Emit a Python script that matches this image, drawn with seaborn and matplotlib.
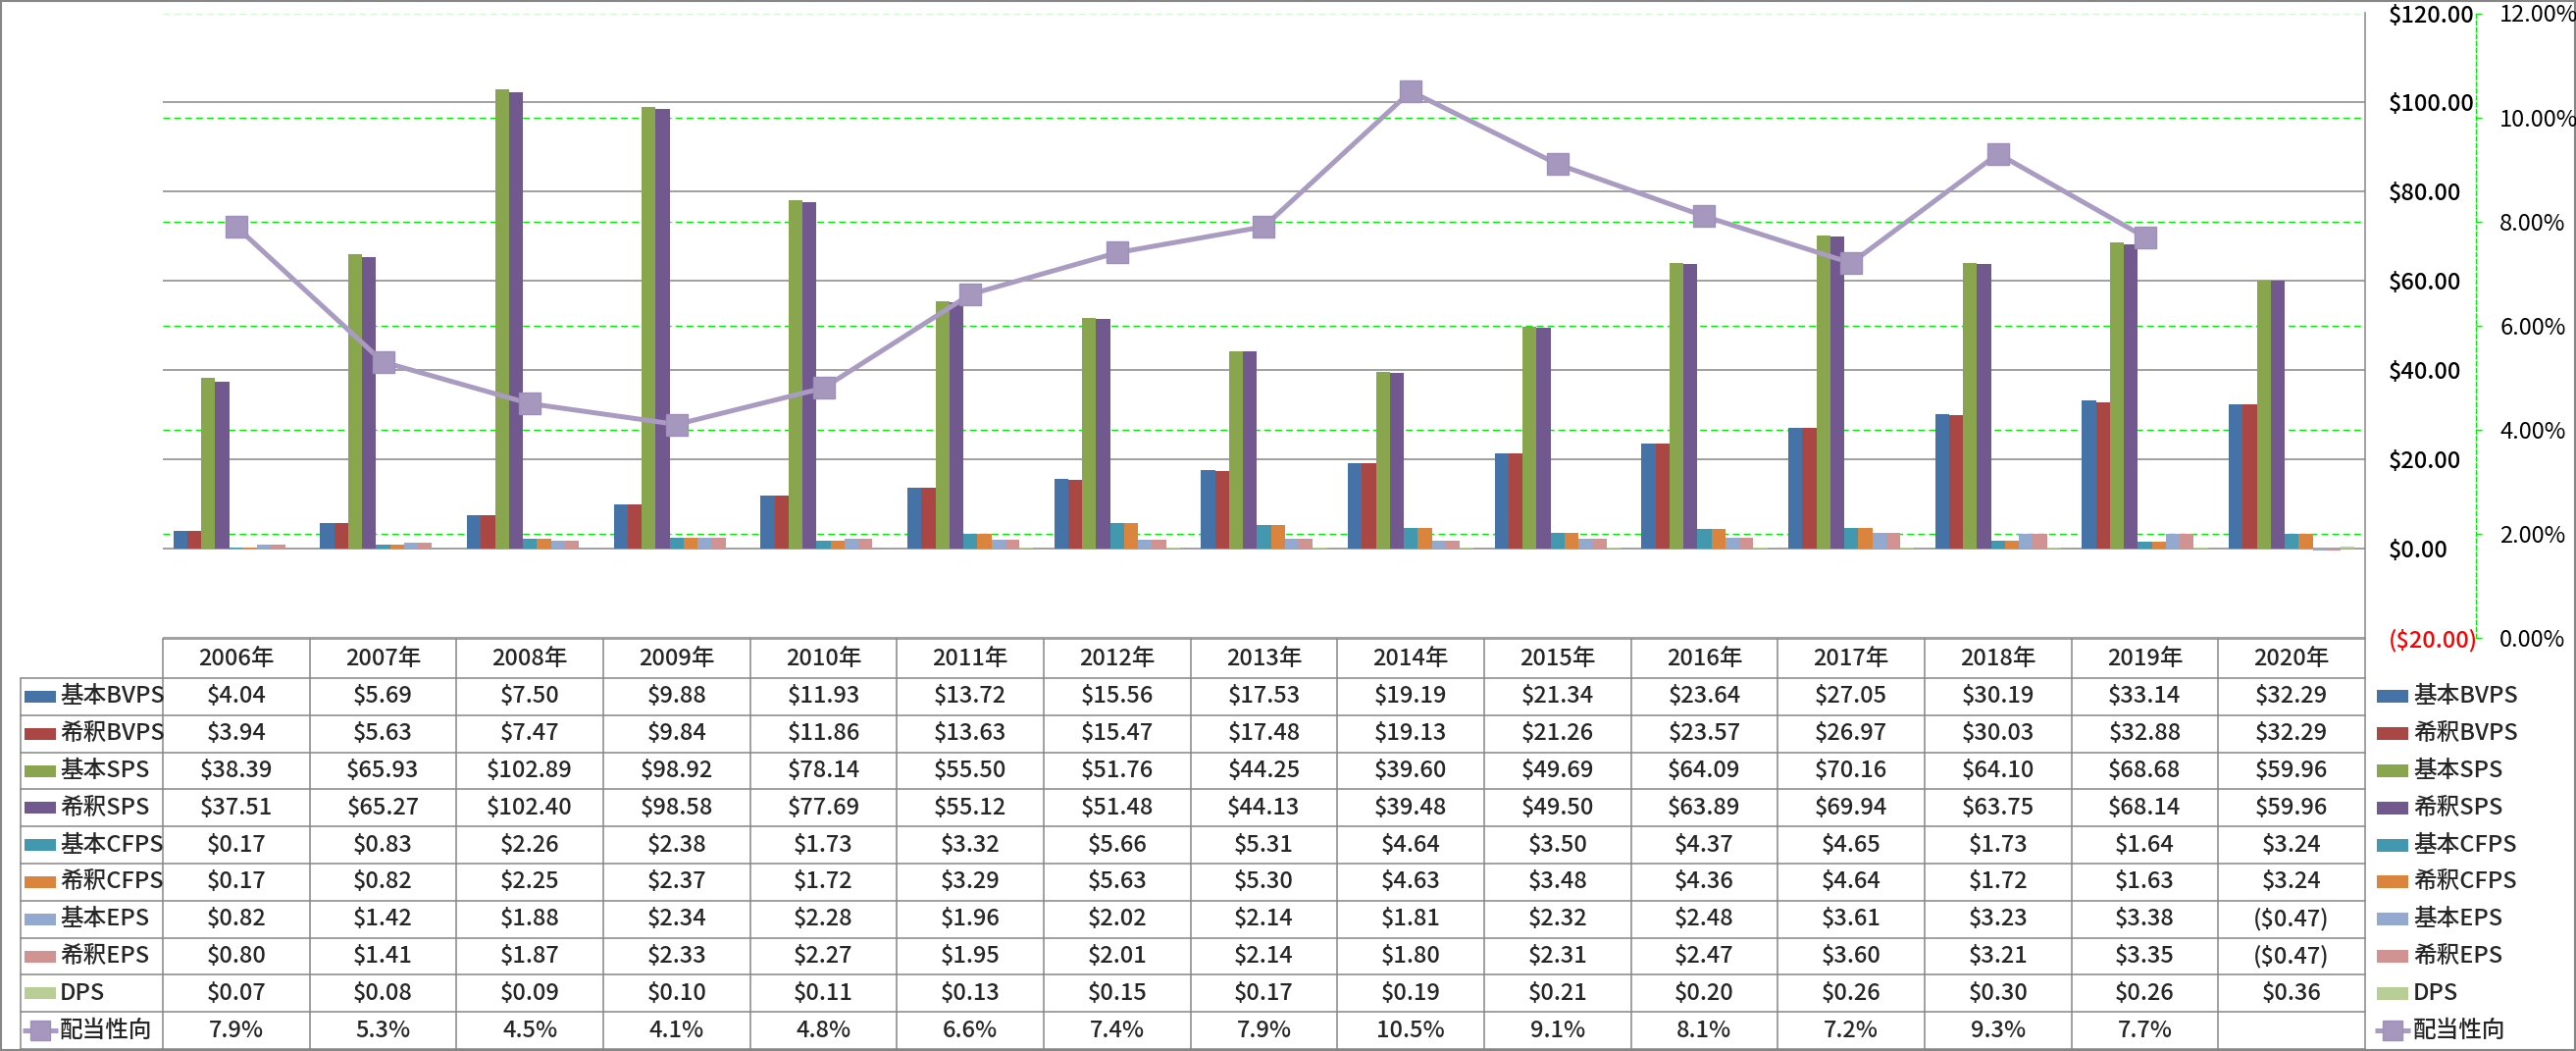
import numpy as np
import pandas as pd
import matplotlib
matplotlib.use("Agg")
import matplotlib.pyplot as plt
import seaborn as sns
from matplotlib.patches import Rectangle
from matplotlib.ticker import FuncFormatter

# ---------------- data ----------------
years = ['2006年', '2007年', '2008年', '2009年', '2010年', '2011年', '2012年', '2013年',
         '2014年', '2015年', '2016年', '2017年', '2018年', '2019年', '2020年']
series_names = ['基本BVPS', '希釈BVPS', '基本SPS', '希釈SPS', '基本CFPS', '希釈CFPS',
                '基本EPS', '希釈EPS', 'DPS']
bvps_basic = [4.04, 5.69, 7.50, 9.88, 11.93, 13.72, 15.56, 17.53, 19.19, 21.34, 23.64, 27.05, 30.19, 33.14, 32.29]
bvps_dil = [3.94, 5.63, 7.47, 9.84, 11.86, 13.63, 15.47, 17.48, 19.13, 21.26, 23.57, 26.97, 30.03, 32.88, 32.29]
sps_basic = [38.39, 65.93, 102.89, 98.92, 78.14, 55.50, 51.76, 44.25, 39.60, 49.69, 64.09, 70.16, 64.10, 68.68, 59.96]
sps_dil = [37.51, 65.27, 102.40, 98.58, 77.69, 55.12, 51.48, 44.13, 39.48, 49.50, 63.89, 69.94, 63.75, 68.14, 59.96]
cfps_basic = [0.17, 0.83, 2.26, 2.38, 1.73, 3.32, 5.66, 5.31, 4.64, 3.50, 4.37, 4.65, 1.73, 1.64, 3.24]
cfps_dil = [0.17, 0.82, 2.25, 2.37, 1.72, 3.29, 5.63, 5.30, 4.63, 3.48, 4.36, 4.64, 1.72, 1.63, 3.24]
eps_basic = [0.82, 1.42, 1.88, 2.34, 2.28, 1.96, 2.02, 2.14, 1.81, 2.32, 2.48, 3.61, 3.23, 3.38, -0.47]
eps_dil = [0.80, 1.41, 1.87, 2.33, 2.27, 1.95, 2.01, 2.14, 1.80, 2.31, 2.47, 3.60, 3.21, 3.35, -0.47]
dps = [0.07, 0.08, 0.09, 0.10, 0.11, 0.13, 0.15, 0.17, 0.19, 0.21, 0.20, 0.26, 0.30, 0.26, 0.36]
payout_pct = [7.9, 5.3, 4.5, 4.1, 4.8, 6.6, 7.4, 7.9, 10.5, 9.1, 8.1, 7.2, 9.3, 7.7, np.nan]
line_name = '配当性向'

colors = ['#4572A7', '#AA4643', '#89A54E', '#71588F', '#4198AF', '#DB843D',
          '#93A9CF', '#D19392', '#B9CD96']
line_color = '#A99BC2'
marker_color = '#A597BD'

all_series = [bvps_basic, bvps_dil, sps_basic, sps_dil, cfps_basic, cfps_dil,
              eps_basic, eps_dil, dps]

rows = []
for name, vals in zip(series_names, all_series):
    for y, v in zip(years, vals):
        rows.append({'year': y, 'series': name, 'value': v})
df = pd.DataFrame(rows)
df_line = pd.DataFrame({'pos': np.arange(len(years)), 'ratio': np.array(payout_pct) / 100.0})

# ---------------- style ----------------
sns.set_style('white')
plt.rcParams['font.family'] = ['Noto Sans CJK JP', 'DejaVu Sans']
plt.rcParams['axes.unicode_minus'] = False

W, H = 2626, 1071
fig = plt.figure(figsize=(W / 100, H / 100), dpi=100)
fig.patch.set_facecolor('white')

plot_left, plot_right, plot_top, plot_bottom = 166, 2411, 13.5, 650
ax = fig.add_axes([plot_left / W, 1 - plot_bottom / H,
                   (plot_right - plot_left) / W, (plot_bottom - plot_top) / H])

grid_gray = '#868686'
FS = 17
FW = 'medium'

sns.barplot(data=df, x='year', y='value', hue='series', order=years, hue_order=series_names,
            palette=colors, width=0.856, saturation=1, errorbar=None, legend=False,
            linewidth=0, ax=ax)
ax.set_ylim(-20, 120)
ax.set_xlim(-0.5, len(years) - 0.5)
ax.set_xlabel('')
ax.set_ylabel('')
ax.set_xticks([])
ax.grid(False)
ax.set_axisbelow(True)
for yv in np.arange(-20, 121, 20):
    ax.axhline(yv, color=grid_gray, lw=1.1, zorder=0)


def money(v, pos=None):
    if v < 0:
        return '(${:,.2f})'.format(-v)
    return '${:,.2f}'.format(v)


for sp in ['left', 'top', 'bottom']:
    ax.spines[sp].set_visible(False)
ax.spines['right'].set_color(grid_gray)
ax.spines['right'].set_linewidth(1.1)

# secondary axis
ax2 = ax.twinx()
ax2.set_ylim(0, 0.12)
sec_ticks = np.arange(0, 0.121, 0.02)
ax2.set_yticks(sec_ticks)
ax2.yaxis.set_major_formatter(FuncFormatter(lambda v, p: '{:.2f}%'.format(v * 100)))
ax2.tick_params(axis='y', length=4.5, width=0.8, color='#00EE00', direction='out', pad=13,
                labelsize=FS, labelcolor='black')
for lab in ax2.get_yticklabels():
    lab.set_fontweight(FW)
for sp in ['left', 'top', 'bottom']:
    ax2.spines[sp].set_visible(False)
ax2.spines['right'].set_position(('outward', 113 * 0.72))
ax2.spines['right'].set_color('#00EE00')
ax2.spines['right'].set_linestyle((0, (3, 2)))
ax2.spines['right'].set_linewidth(1)

# primary axis on the right (after twinx, which resets it)
ax.yaxis.tick_right()
ax.yaxis.set_label_position('right')
ax.set_yticks(np.arange(-20, 121, 20))
ax.yaxis.set_major_formatter(FuncFormatter(money))
ax.tick_params(axis='y', which='both', left=False, right=True, labelleft=False, labelright=True,
               length=0, pad=17, labelsize=FS, labelcolor='black')

# green dashed gridlines of secondary axis drawn on the primary axis (behind bars)
y0, y1 = ax.get_ylim()
s0, s1 = ax2.get_ylim()
for t in sec_ticks[1:]:
    yp = y0 + (t - s0) / (s1 - s0) * (y1 - y0)
    ax.axhline(yp, color='#00EE00', lw=1.0, ls=(0, (5, 3)), zorder=0.5)

sns.lineplot(data=df_line, x='pos', y='ratio', ax=ax2, color=line_color, lw=3.6,
             marker='s', markersize=16, markerfacecolor=marker_color,
             markeredgecolor='#9E90B8', markeredgewidth=1, zorder=5)
ax2.set_xlabel('')
ax2.set_ylabel('')
ax2.set_xlim(-0.5, len(years) - 0.5)

fig.canvas.draw()
for lab in ax.get_yticklabels():
    lab.set_fontweight(FW)
    if lab.get_text().startswith('('):
        lab.set_color('red')

# ---------------- data table ----------------
tax = fig.add_axes([0, 0, 1, 1], zorder=-1)
tax.set_xlim(0, W)
tax.set_ylim(H, 0)
tax.axis('off')

table_top = 651
header_h = 40
row_h = (1069 - table_top - header_h) / 10.0
label_left = 21

col_edges = [ax.transData.transform((i - 0.5, 0))[0] for i in range(len(years) + 1)]
col_centers = [ax.transData.transform((i, 0))[0] for i in range(len(years))]

lc = dict(color=grid_gray, lw=1.1)
tax.plot([col_edges[0], col_edges[-1]], [table_top, table_top], **lc)
body_top = table_top + header_h
n_rows = 10
for r in range(n_rows + 1):
    yy = body_top + r * row_h
    tax.plot([label_left, col_edges[-1]], [yy, yy], **lc)
for i, xe in enumerate(col_edges):
    tax.plot([xe, xe], [table_top, body_top + n_rows * row_h], **lc)
tax.plot([label_left, label_left], [body_top, body_top + n_rows * row_h], **lc)

tk = dict(fontsize=FS, fontweight=FW)
for i, y in enumerate(years):
    tax.text(col_centers[i], table_top + header_h / 2, y, ha='center', va='center', **tk)

row_labels = series_names + [line_name]
for r, name in enumerate(row_labels):
    cy = body_top + (r + 0.5) * row_h
    if r < len(series_names):
        vals = all_series[r]
        texts = [money(v) for v in vals]
        tax.add_patch(Rectangle((25, cy - 6), 32, 12, color=colors[r], lw=0))
        tax.add_patch(Rectangle((2423, cy - 6.5), 32, 13, color=colors[r], lw=0))
    else:
        texts = ['' if np.isnan(v) else '{:.1f}%'.format(v) for v in payout_pct]
        for kx in (41, 2439):
            tax.plot([kx - 18, kx + 18], [cy, cy], color=line_color, lw=3.6,
                     solid_capstyle='butt')
            tax.plot([kx], [cy], marker='s', markersize=14, color=marker_color,
                     markeredgecolor='#9E90B8', markeredgewidth=1)
    tax.text(61, cy, name, ha='left', va='center', **tk)
    tax.text(2460, cy, name, ha='left', va='center', **tk)
    for i, t in enumerate(texts):
        tax.text(col_centers[i], cy, t, ha='center', va='center', **tk)

# chart border
tax.add_patch(Rectangle((0.5, 0.5), W - 1.5, H - 1.5, fill=False, ec=grid_gray, lw=1.5))

fig.savefig('out.png', dpi=100, facecolor='white')
